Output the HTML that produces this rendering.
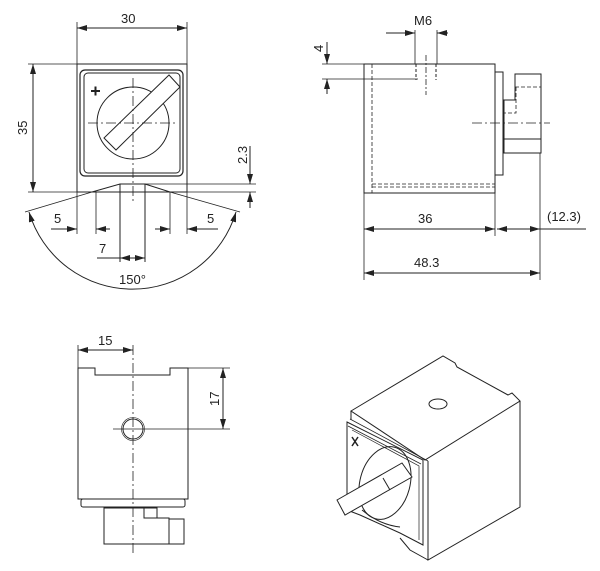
<!DOCTYPE html>
<html><head><style>
html,body{margin:0;padding:0;background:#fff;}
svg{display:block;}
text{font-family:"Liberation Sans",sans-serif;font-size:13px;fill:#222;}
</style></head><body>
<svg width="600" height="571" viewBox="0 0 600 571" xmlns="http://www.w3.org/2000/svg">
<defs>
<marker id="a" viewBox="0 0 10 6" refX="10" refY="3" markerWidth="10" markerHeight="6" orient="auto-start-reverse" markerUnits="userSpaceOnUse"><path d="M0,0 L10,3 L0,6 z" fill="#222"/></marker>
</defs>
<g stroke="#222" stroke-width="1" fill="none">
<!-- VIEW 1 -->
<rect x="77" y="64" width="110" height="128"/>
<rect x="80" y="70" width="103" height="106" rx="5" stroke-width="1.2"/>
<rect x="84" y="73" width="96" height="100" rx="4"/>
<circle cx="133" cy="123" r="36"/>
<polygon points="104,138 116,150 180,87 169,75" fill="#fff"/>
<path d="M91,91 h9 M95.5,86.5 v9" stroke-width="2"/>
<path d="M88,123 H177 M133,78 V202" stroke-dasharray="10,3,2,3" stroke-width="0.8"/>
<path d="M77,192 H92 L120,184 H145 L170,192 H187"/>
<path d="M120,184 V262 M145,184 V262"/>
<path d="M92,192 L25,212 M170,192 L240,212" stroke-width="0.8"/>
<path d="M77,22 V64 M187,22 V64" stroke-width="0.8"/>
<line x1="77" y1="28" x2="187" y2="28" marker-start="url(#a)" marker-end="url(#a)"/>
<path d="M28,64 H77 M28,192 H77" stroke-width="0.8"/>
<line x1="33" y1="64" x2="33" y2="192" marker-start="url(#a)" marker-end="url(#a)"/>
<path d="M77,192 V234 M96,192 V234 M170,192 V234 M187,192 V234" stroke-width="0.8"/>
<line x1="51" y1="229" x2="77" y2="229" marker-end="url(#a)"/>
<line x1="110" y1="229" x2="96" y2="229" marker-end="url(#a)"/>
<line x1="155" y1="229" x2="170" y2="229" marker-end="url(#a)"/>
<line x1="218" y1="229" x2="187" y2="229" marker-end="url(#a)"/>
<line x1="97" y1="258" x2="120" y2="258"/>
<line x1="120" y1="258" x2="145" y2="258" marker-start="url(#a)" marker-end="url(#a)"/>
<path d="M145,184 H256 M187,192 H256" stroke-width="0.8"/>
<line x1="250" y1="146" x2="250" y2="184" marker-end="url(#a)"/>
<line x1="250" y1="208" x2="250" y2="192" marker-end="url(#a)"/>
<path d="M29,212 A108,108 0 0 0 236,212" marker-start="url(#a)" marker-end="url(#a)"/>
<!-- VIEW 2 -->
<rect x="364" y="64" width="131" height="129"/>
<path d="M372,64 V193 M372,184 H495 M372,187 H495" stroke-dasharray="4,2" stroke-width="0.8"/>
<rect x="495" y="72" width="8" height="103"/>
<path d="M515,74 H541 V153 H504 V100 H515 Z M504,139 H541"/>
<path d="M515,87 H541 M516,87 V113 H504" stroke-dasharray="4,2" stroke-width="0.8"/>
<path d="M472,123 H550" stroke-dasharray="10,3,2,3" stroke-width="0.8"/>
<path d="M416,64 V80 M436,64 V80" stroke-dasharray="3,2"/>
<path d="M426,55 V95" stroke-dasharray="6,2,2,2" stroke-width="0.8"/>
<path d="M415,30 V64 M437,30 V64" stroke-width="0.8"/>
<line x1="386" y1="33" x2="415" y2="33" marker-end="url(#a)"/>
<line x1="448" y1="33" x2="437" y2="33" marker-end="url(#a)"/>
<path d="M322,64 H364 M322,79 H418" stroke-width="0.8"/>
<line x1="327" y1="42" x2="327" y2="64" marker-end="url(#a)"/>
<line x1="327" y1="94" x2="327" y2="79" marker-end="url(#a)"/>
<path d="M364,193 V280 M495,175 V236 M540,153 V280" stroke-width="0.8"/>
<line x1="364" y1="229" x2="495" y2="229" marker-start="url(#a)" marker-end="url(#a)"/>
<line x1="497" y1="229" x2="540" y2="229" marker-start="url(#a)" marker-end="url(#a)"/>
<line x1="540" y1="229" x2="586" y2="229"/>
<line x1="364" y1="273" x2="540" y2="273" marker-start="url(#a)" marker-end="url(#a)"/>
<!-- VIEW 3 -->
<path d="M78,499 V368 H95 V375 H170 V368 H188 V499 Z"/>
<circle cx="133" cy="429" r="10"/>
<circle cx="133" cy="429" r="11.5" stroke-width="0.6"/>
<path d="M133,345 V553" stroke-dasharray="10,3,2,3" stroke-width="0.8"/>
<path d="M113,429 H230 M188,368 H230 M78,345 V368" stroke-width="0.8"/>
<line x1="78" y1="350" x2="133" y2="350" marker-start="url(#a)" marker-end="url(#a)"/>
<line x1="223" y1="368" x2="223" y2="429" marker-start="url(#a)" marker-end="url(#a)"/>
<rect x="81" y="499" width="104" height="8" rx="2"/>
<path d="M104,508 H144 V518 H169 V544 H104 Z M144,508 H157 V518 M169,519 H184 V544 H169"/>
<!-- VIEW 4 -->
<path d="M351,411 L443,356 L455,363 L457,367 L508,395 L512,393 L520,401 L425,460 Z" fill="#fff"/>
<path d="M520,401 V507 L428,560 V461"/>
<path d="M351,411 V420 M428,560 L410,550 L400,538"/>
<path d="M347,422 L423,460 V545 L400,533 L360,515 L347,510 Z" fill="#fff"/>
<path d="M350,419 L428,461 M348,426 L421,464" stroke-width="0.8"/>
<path d="M352,430 L419,466 V540" stroke-width="0.7"/>
<ellipse cx="438" cy="404" rx="9" ry="5"/>
<ellipse cx="385" cy="483" rx="25" ry="37" transform="rotate(15 385 483)"/>
<path d="M362,510 Q380,525 400,527" />
<polygon points="337,500 402,463 412,477 345,515" fill="#fff"/>
<path d="M383,478 L390,490" />
<path d="M352,437 L358,446 M358,437 L352,446" stroke-width="1.5"/>
</g>
<text x="121" y="23">30</text>
<text x="0" y="0" transform="translate(27,135) rotate(-90)">35</text>
<text x="0" y="0" transform="translate(247,164) rotate(-90)">2.3</text>
<text x="54" y="223">5</text>
<text x="207" y="223">5</text>
<text x="99" y="253">7</text>
<text x="119" y="284">150°</text>
<text x="414" y="25">M6</text>
<text x="0" y="0" transform="translate(323,52) rotate(-90)">4</text>
<text x="418" y="223">36</text>
<text x="547" y="221">(12.3)</text>
<text x="414" y="267">48.3</text>
<text x="98" y="345">15</text>
<text x="0" y="0" transform="translate(219,406) rotate(-90)">17</text>
</svg>
</body></html>
